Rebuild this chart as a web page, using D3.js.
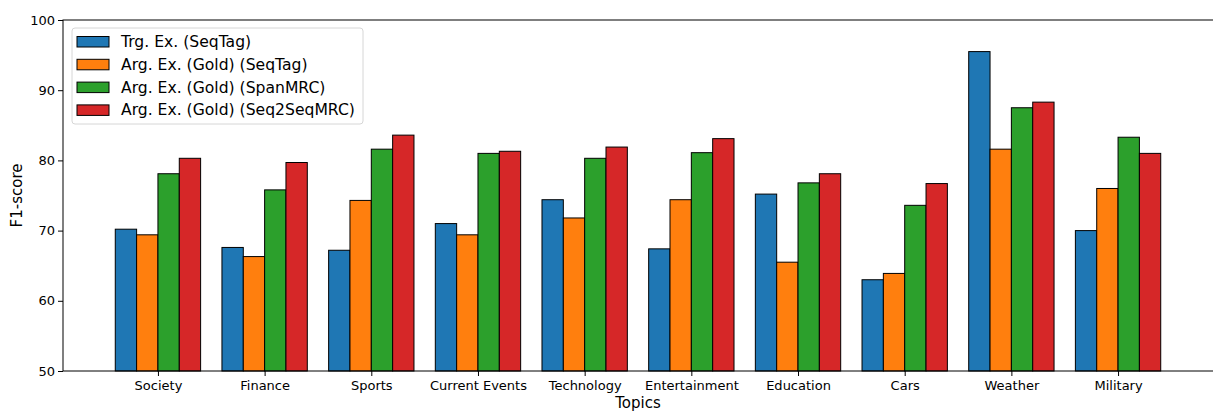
<!DOCTYPE html>
<html>
<head>
<meta charset="utf-8">
<script src="https://cdn.jsdelivr.net/npm/d3@7"></script>
<style>
  body { margin: 0; background: #fff; }
  svg { display: block; font-family: "DejaVu Sans", sans-serif; }
</style>
</head>
<body>
<div id="chart"></div>
<script>
'use strict';
// topics along the x axis
const topics = ["Society", "Finance", "Sports", "Current Events", "Technology",
                "Entertainment", "Education", "Cars", "Weather", "Military"];
// one array per model
const trgSeqTag = [70.2, 67.6, 67.2, 71.0, 74.4, 67.4, 75.2, 63.0, 95.5, 70.0];
const argSeqTag = [69.4, 66.3, 74.3, 69.4, 71.8, 74.4, 65.5, 63.9, 81.6, 76.0];
const argSpanMRC = [78.1, 75.8, 81.6, 81.0, 80.3, 81.1, 76.8, 73.6, 87.5, 83.3];
const argSeq2SeqMRC = [80.3, 79.7, 83.6, 81.3, 81.9, 83.1, 78.1, 76.7, 88.3, 81.0];
const seriesNames = ["Trg. Ex. (SeqTag)", "Arg. Ex. (Gold) (SeqTag)",
                     "Arg. Ex. (Gold) (SpanMRC)", "Arg. Ex. (Gold) (Seq2SeqMRC)"];
const yTicks = [50, 60, 70, 80, 90, 100];

(function () {
  const series = [trgSeqTag, argSeqTag, argSpanMRC, argSeq2SeqMRC];
  const colors = ["#1f77b4", "#ff7f0e", "#2ca02c", "#d62728"];
  const W = 1213, H = 413;
  const left = 63, right = 1213, top = 20, bottom = 371;
  const barW = 0.2;

  const svg = d3.select("#chart").append("svg")
    .attr("width", W).attr("height", H);

  // x is continuous so bars can sit at i + offset like matplotlib
  const x = d3.scaleLinear().domain([-0.89, 9.89]).range([left, right]);
  const y = d3.scaleLinear().domain([50, 100]).range([bottom, top]);

  // bars
  series.forEach((vals, s) => {
    svg.append("g").selectAll("rect")
      .data(vals)
      .join("rect")
      .attr("x", (d, i) => x(i - 0.4 + s * barW))
      .attr("y", d => y(d))
      .attr("width", x(barW) - x(0))
      .attr("height", d => y(50) - y(d))
      .attr("fill", colors[s])
      .attr("stroke", "#000")
      .attr("stroke-width", 1);
  });

  // axes
  const yAxis = d3.axisLeft(y).tickValues(yTicks).tickSize(5).tickPadding(3);
  const gy = svg.append("g").attr("transform", `translate(${left},0)`).call(yAxis);
  gy.select(".domain").remove();
  gy.selectAll("text").attr("font-size", 13).attr("fill", "#000")
    .attr("font-family", "DejaVu Sans");

  const xAxis = d3.axisBottom(x).tickValues(d3.range(topics.length))
    .tickFormat(i => topics[i]).tickSize(5).tickPadding(4.5);
  const gx = svg.append("g").attr("transform", `translate(0,${bottom})`).call(xAxis);
  gx.select(".domain").remove();
  gx.selectAll("text").attr("font-size", 13).attr("fill", "#000")
    .attr("font-family", "DejaVu Sans");

  // frame (right spine sits just past the crop)
  svg.append("rect")
    .attr("x", left).attr("y", top)
    .attr("width", right + 1 - left).attr("height", bottom - top)
    .attr("fill", "none").attr("stroke", "#000").attr("stroke-width", 1);

  // axis titles
  svg.append("text")
    .attr("x", (left + right) / 2).attr("y", 408)
    .attr("text-anchor", "middle").attr("font-size", 15)
    .text("Topics");
  svg.append("text")
    .attr("transform", `translate(22,${(top + bottom) / 2}) rotate(-90)`)
    .attr("text-anchor", "middle").attr("font-size", 15)
    .text("F1-score");

  // legend
  const lg = svg.append("g").attr("transform", "translate(72,28)");
  lg.append("rect")
    .attr("width", 291).attr("height", 96).attr("rx", 3)
    .attr("fill", "#fff").attr("fill-opacity", 0.8)
    .attr("stroke", "#d6d6d6");
  seriesNames.forEach((name, s) => {
    const row = lg.append("g").attr("transform", `translate(5,${13.5 + s * 22.8})`);
    row.append("rect")
      .attr("x", 0).attr("y", -5).attr("width", 32).attr("height", 10.5)
      .attr("fill", colors[s]).attr("stroke", "#000").attr("stroke-width", 1);
    row.append("text")
      .attr("x", 44).attr("y", 0).attr("dy", "0.35em")
      .attr("font-size", 15.6).text(name);
  });
})();
</script>
</body>
</html>
